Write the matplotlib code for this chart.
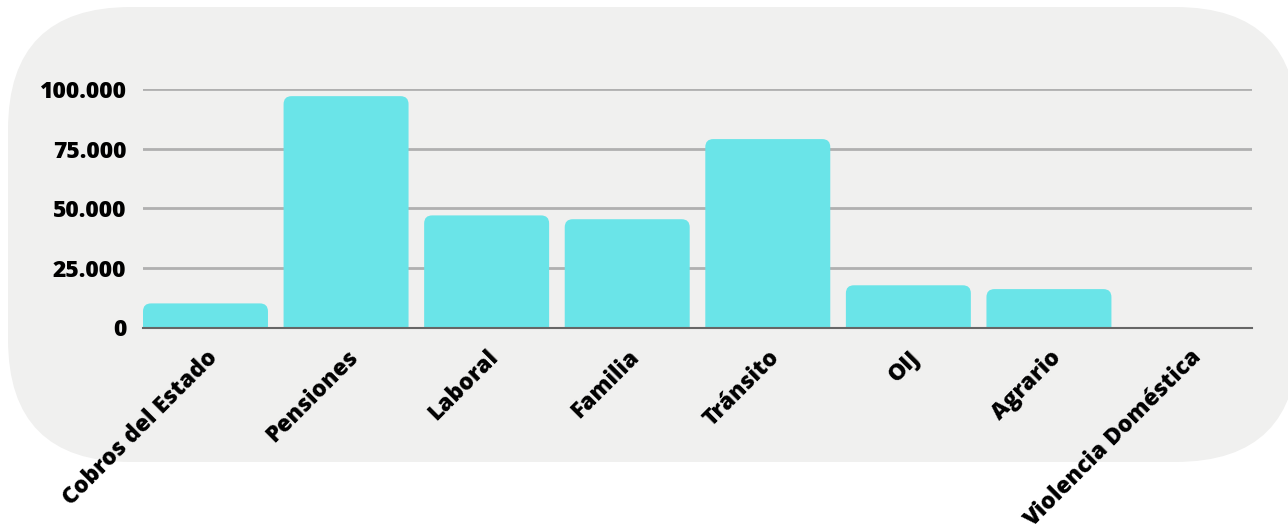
#!/usr/bin/env python3
"""Bar chart: cases per category (rounded bars on a rounded grey panel)."""

import matplotlib
matplotlib.use("Agg")
import matplotlib.pyplot as plt
from matplotlib.patches import FancyBboxPatch
from matplotlib.ticker import FuncFormatter

#--- Data ---
categorias = ["Cobros del Estado", "Pensiones", "Laboral", "Familia",
              "Tránsito", "OIJ", "Agrario", "Violencia Doméstica"]
valores = [10100, 97000, 47000, 45400, 79000, 17700, 16100, 0]
y_ticks = [0, 25000, 50000, 75000, 100000]

#--- Style ---
color_barra = "#6ae4e8"
color_panel = "#f0f0ef"
color_grid = "#b0b0b0"
fuente = ["Open Sans", "DejaVu Sans"]

W, H, DPI = 1288, 525, 100
fig = plt.figure(figsize=(W / DPI, H / DPI), dpi=DPI)
fig.patch.set_facecolor("white")

# Rounded background panel (pixel coords: x 8..1298, y 7..462 from top)
panel = FancyBboxPatch((8 / W, (H - 462) / H), (1298 - 8) / W, (462 - 7) / H,
                       boxstyle="round,pad=0,rounding_size=%f" % (50 / H),
                       mutation_aspect=W / H,
                       transform=fig.transFigure, facecolor=color_panel,
                       edgecolor="none", zorder=0)
fig.patches.append(panel)

ax = fig.add_axes([143 / W, (H - 327.5) / H, (1252 - 143) / W, (327.5 - 89) / H])
ax.set_facecolor("none")
ax.set_zorder(2)

ancho = 0.889
barras = ax.bar(range(len(categorias)), valores, width=ancho, color=color_barra)

# Replace plain bars with rounded-top ones
px_x = (1252 - 143) / (len(categorias) - 1 + ancho)
px_y = (327.5 - 89) / 100000
r_px = 8
for b in barras:
    b.set_visible(False)
    if b.get_height() <= 0:
        continue
    rx = r_px / px_x
    ry = r_px / px_y
    p = FancyBboxPatch((b.get_x(), -ry), b.get_width(), b.get_height() + ry,
                       boxstyle="round,pad=0,rounding_size=%f" % rx,
                       mutation_aspect=ry / rx,
                       facecolor=color_barra, edgecolor="none", zorder=2)
    ax.add_patch(p)

ax.set_xlim(-ancho / 2, len(categorias) - 1 + ancho / 2)
ax.set_ylim(0, 100000)
ax.set_yticks(y_ticks)
ax.yaxis.set_major_formatter(FuncFormatter(lambda v, p: f"{int(v):,}".replace(",", ".")))
ax.grid(axis="y", color=color_grid, linewidth=2, zorder=1)
ax.set_axisbelow(True)

for s in ["top", "right", "left"]:
    ax.spines[s].set_visible(False)
ax.spines["bottom"].set_color("#666666")
ax.spines["bottom"].set_linewidth(1.5)
ax.spines["bottom"].set_zorder(3)
ax.tick_params(axis="both", length=0)
ax.tick_params(axis="y", pad=12)
ax.tick_params(axis="x", pad=13)

ax.set_xticks(range(len(categorias)))
ax.set_xticklabels(categorias, rotation=45, ha="right", va="top",
                   rotation_mode="anchor")
for lbl in ax.get_xticklabels() + ax.get_yticklabels():
    lbl.set_fontfamily(fuente)
    lbl.set_fontweight("heavy")
    lbl.set_fontsize(16.5)
    lbl.set_color("black")

fig.savefig("out.png", dpi=DPI)
